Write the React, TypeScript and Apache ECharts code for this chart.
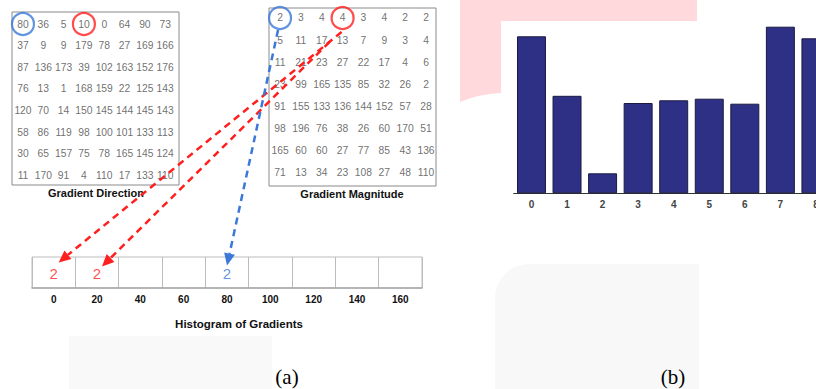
import React, { useEffect, useRef } from "react";
import * as echarts from "echarts";

// Gradient direction (degrees), 8x8 cell
const directionMatrix: number[][] = [
  [80, 36, 5, 10, 0, 64, 90, 73],
  [37, 9, 9, 179, 78, 27, 169, 166],
  [87, 136, 173, 39, 102, 163, 152, 176],
  [76, 13, 1, 168, 159, 22, 125, 143],
  [120, 70, 14, 150, 145, 144, 145, 143],
  [58, 86, 119, 98, 100, 101, 133, 113],
  [30, 65, 157, 75, 78, 165, 145, 124],
  [11, 170, 91, 4, 110, 17, 133, 110],
];

// Gradient magnitude, 8x8 cell
const magnitudeMatrix: number[][] = [
  [2, 3, 4, 4, 3, 4, 2, 2],
  [5, 11, 17, 13, 7, 9, 3, 4],
  [11, 21, 23, 27, 22, 17, 4, 6],
  [23, 99, 165, 135, 85, 32, 26, 2],
  [91, 155, 133, 136, 144, 152, 57, 28],
  [98, 196, 76, 38, 26, 60, 170, 51],
  [165, 60, 60, 27, 77, 85, 43, 136],
  [71, 13, 34, 23, 108, 27, 48, 110],
];

// highlighted cells [col,row]
const highlightBlue: number[] = [0, 0];
const highlightRed: number[] = [3, 0];

// Histogram of gradients bins
const histBins: string[] = ["0", "20", "40", "60", "80", "100", "120", "140", "160"];
const voteBinIndex: number[] = [0, 1, 4];
const voteValues: number[] = [2, 2, 2];
const voteSource: string[] = ["red", "red", "blue"];

// Panel (b) histogram
const barCategories: string[] = ["0", "1", "2", "3", "4", "5", "6", "7", "8"];
const barValues: number[] = [157, 97.5, 20, 90.3, 93, 94.6, 89.6, 166.6, 155];

const RED = "#ff1f1f";
const BLUE = "#3b78d8";

function cells(m: number[][]) {
  const out: number[][] = [];
  m.forEach((row, r) => row.forEach((v, c) => out.push([c, r, v])));
  return out;
}

function arrow(s: number[], t: number[], color: string) {
  const dx = t[0] - s[0];
  const dy = t[1] - s[1];
  const L = Math.hypot(dx, dy);
  const ux = dx / L;
  const uy = dy / L;
  const hl = 12;
  const hw = 5.5;
  const b = [t[0] - ux * hl, t[1] - uy * hl];
  return [
    {
      type: "line",
      z: 100,
      shape: { x1: s[0], y1: s[1], x2: b[0], y2: b[1] },
      style: { stroke: color, lineWidth: 2.5, lineDash: [7, 5] },
    },
    {
      type: "polygon",
      z: 100,
      shape: {
        points: [
          [t[0], t[1]],
          [b[0] - uy * hw, b[1] + ux * hw],
          [b[0] + uy * hw, b[1] - ux * hw],
        ],
      },
      style: { fill: color },
    },
  ];
}

export default function App() {
  const ref = useRef<HTMLDivElement>(null);
  useEffect(() => {
    if (!ref.current) return;
    const chart = echarts.init(ref.current, null, { renderer: "svg" });
    const matrixText = {
      show: true,
      position: "inside",
      fontSize: 10.3,
      color: "#4a4a4a",
      fontFamily: "Liberation Sans, Arial",
      formatter: (p: any) => String(p.value[2]),
    };
    const circleSeries = (xi: number) => ({
      type: "scatter",
      xAxisIndex: xi,
      yAxisIndex: xi,
      symbol: "circle",
      symbolSize: 22,
      z: 5,
      data: [
        { value: highlightBlue, itemStyle: { color: "rgba(0,0,0,0)", borderColor: BLUE, borderWidth: 2.2 } },
        { value: highlightRed, itemStyle: { color: "rgba(0,0,0,0)", borderColor: RED, borderWidth: 2.2 } },
      ],
    });
    const hidden = { show: false };
    chart.setOption({
      animation: false,
      grid: [
        { left: 12, top: 12, width: 167, height: 173, show: true, borderColor: "#8a8a8a", borderWidth: 1 },
        { left: 269, top: 8, width: 167, height: 178, show: true, borderColor: "#8a8a8a", borderWidth: 1 },
        { left: 32, top: 257, width: 390, height: 31, show: true, borderColor: "#bdbdbd", borderWidth: 1 },
        { left: 513.7, top: 23.3, width: 320, height: 170 },
      ],
      xAxis: [
        { type: "value", gridIndex: 0, min: -0.54, max: 7.68, ...hidden },
        { type: "value", gridIndex: 1, min: -0.53, max: 7.48, ...hidden },
        {
          type: "category",
          gridIndex: 2,
          data: histBins,
          boundaryGap: true,
          axisLine: { show: true, lineStyle: { color: "#a8a8a8", width: 1.5 } },
          axisTick: { show: false },
          splitLine: { show: true, lineStyle: { color: "#bdbdbd", width: 1 } },
          axisLabel: { fontSize: 10, fontWeight: "bold", color: "#111", margin: 6, fontFamily: "Liberation Sans, Arial" },
        },
        {
          type: "category",
          gridIndex: 3,
          data: barCategories,
          boundaryGap: true,
          axisLine: { show: true, lineStyle: { color: "#333", width: 1.2 } },
          axisTick: { show: true, inside: true, length: 3, alignWithLabel: true, lineStyle: { color: "#555" } },
          axisLabel: { fontSize: 10, fontWeight: "bold", color: "#444", margin: 6, fontFamily: "Liberation Sans, Arial" },
        },
      ],
      yAxis: [
        { type: "value", gridIndex: 0, inverse: true, min: -0.556, max: 7.45, ...hidden },
        { type: "value", gridIndex: 1, inverse: true, min: -0.45, max: 7.6, ...hidden },
        { type: "value", gridIndex: 2, min: 0, max: 1, ...hidden },
        { type: "value", gridIndex: 3, min: 0, max: 170, ...hidden },
      ],
      series: [
        {
          type: "scatter",
          xAxisIndex: 0,
          yAxisIndex: 0,
          symbolSize: 1,
          itemStyle: { color: "rgba(0,0,0,0)" },
          label: matrixText,
          data: cells(directionMatrix),
        },
        {
          type: "scatter",
          xAxisIndex: 1,
          yAxisIndex: 1,
          symbolSize: 1,
          itemStyle: { color: "rgba(0,0,0,0)" },
          label: matrixText,
          data: cells(magnitudeMatrix),
        },
        circleSeries(0),
        circleSeries(1),
        {
          type: "scatter",
          xAxisIndex: 2,
          yAxisIndex: 2,
          symbolSize: 1,
          itemStyle: { color: "rgba(0,0,0,0)" },
          data: voteBinIndex.map((b, i) => ({
            value: [b, 0.47, voteValues[i]],
            label: {
              show: true,
              position: "inside",
              fontSize: 15,
              color: voteSource[i] === "red" ? RED : BLUE,
              fontFamily: "Liberation Sans, Arial",
              formatter: (p: any) => String(p.value[2]),
            },
          })),
        },
        {
          type: "bar",
          xAxisIndex: 3,
          yAxisIndex: 3,
          barCategoryGap: "18.5%",
          itemStyle: { color: "#2e3086", borderColor: "#1a1a40", borderWidth: 1 },
          data: barValues,
        },
      ],
    });

    const px = (gi: number, v: number[]) => chart.convertToPixel({ gridIndex: gi } as any, v) as number[];
    const blueC = px(1, highlightBlue);
    const redC = px(1, highlightRed);
    const vote = voteBinIndex.map((b) => px(2, [b, 0.47]));
    const add = (p: number[], d: number[]) => [p[0] + d[0], p[1] + d[1]];

    const txt = (text: string, x: number, y: number, extra: any = {}) => ({
      type: "text",
      z: 50,
      style: {
        text,
        x,
        y,
        align: "center",
        verticalAlign: "middle",
        fontSize: 11,
        fontWeight: "bold",
        fontFamily: "Liberation Sans, Arial",
        fill: "#111",
        ...extra,
      },
    });

    chart.setOption({
      graphic: [
        {
          type: "polygon",
          z: -10,
          shape: {
            points: [
              [460, 0], [697, 0], [697, 21], [501, 21], [501, 93], [490, 94], [478, 96], [468, 99], [460, 102],
            ],
          },
          style: { fill: "#ffd9dc" },
        },
        {
          type: "rect",
          z: -10,
          shape: { x: 495, y: 264, width: 204, height: 140, r: [34, 0, 0, 0] },
          style: { fill: "#f8f8f8" },
        },
        {
          type: "rect",
          z: -10,
          shape: { x: 69, y: 336, width: 203, height: 60 },
          style: { fill: "#f9f9f9" },
        },
        txt("Gradient Direction", 96, 193),
        txt("Gradient Magnitude", 352, 194),
        txt("Histogram of Gradients", 239, 324, { fontSize: 11.5 }),
        txt("(a)", 287, 377, { fontSize: 21, fontWeight: "normal", fontFamily: "Liberation Serif, Times New Roman, serif", fill: "#000" }),
        txt("(b)", 673, 377, { fontSize: 21, fontWeight: "normal", fontFamily: "Liberation Serif, Times New Roman, serif", fill: "#000" }),
        ...arrow(add(redC, [-1, 14]), add(vote[0], [5, -11]), RED),
        ...arrow(add(redC, [-13, 24]), add(vote[1], [5, -7]), RED),
        ...arrow(add(blueC, [-2, 12]), add(vote[2], [0, -8]), BLUE),
      ],
    });
    return () => chart.dispose();
  }, []);
  return (
    <div style={{ position: "fixed", left: 0, top: 0, width: 816, height: 389, overflow: "hidden", background: "#fff" }}>
      <div ref={ref} style={{ position: "absolute", left: 0, top: 0, width: 860, height: 389 }} />
    </div>
  );
}
